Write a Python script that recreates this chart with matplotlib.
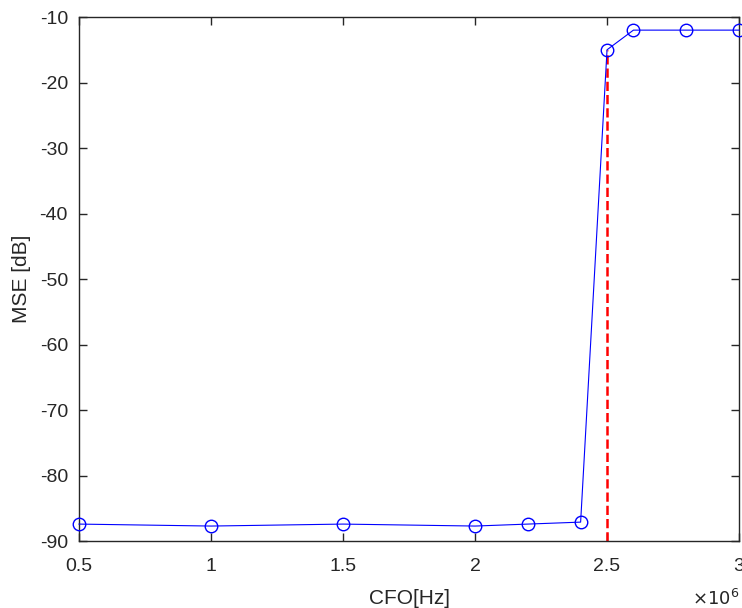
import matplotlib
matplotlib.use("Agg")
import matplotlib.pyplot as plt
from matplotlib.ticker import FuncFormatter

plt.rcParams['font.family'] = ['Liberation Sans', 'DejaVu Sans']
plt.rcParams['axes.unicode_minus'] = False

cfo_hz = [0.5e6, 1.0e6, 1.5e6, 2.0e6, 2.2e6, 2.4e6, 2.5e6, 2.6e6, 2.8e6, 3.0e6]
mse_db = [-87.4, -87.7, -87.4, -87.7, -87.4, -87.1, -15.0, -12.0, -12.0, -12.0]
threshold_hz = 2.5e6
threshold_top = -15.0
x_ticks = [0.5e6, 1.0e6, 1.5e6, 2.0e6, 2.5e6, 3.0e6]
y_ticks = [-90, -80, -70, -60, -50, -40, -30, -20, -10]

fig = plt.figure(figsize=(7.42, 6.08), dpi=100)
ax = fig.add_axes([0.1065, 0.110, 0.8895, 0.862])

ax.plot(cfo_hz, mse_db, color=(0, 0, 1), linewidth=0.8, marker='o',
        markersize=9, markerfacecolor='none', markeredgecolor=(0, 0, 1),
        markeredgewidth=1.0, clip_on=False, zorder=3)
ax.plot([threshold_hz, threshold_hz], [-90, threshold_top], color=(1, 0, 0),
        linestyle='--', linewidth=1.8, zorder=2)

ax.set_xlim(0.5e6, 3.0e6)
ax.set_ylim(-90, -10)
ax.set_xticks(x_ticks)
ax.set_yticks(y_ticks)
ax.xaxis.set_major_formatter(FuncFormatter(lambda v, p: f"{v/1e6:g}"))
ax.tick_params(direction='in', top=True, right=True, length=6, width=1,
               labelsize=14, colors=(0.15, 0.15, 0.15))
ax.tick_params(axis='x', pad=12)
ax.tick_params(axis='y', pad=8)
for s in ax.spines.values():
    s.set_color((0.15, 0.15, 0.15))
    s.set_linewidth(1.0)

ax.set_xlabel('CFO[Hz]', fontsize=15, color=(0.15, 0.15, 0.15), labelpad=10)
ax.set_ylabel('MSE [dB]', fontsize=15, color=(0.15, 0.15, 0.15), labelpad=6)
ax.text(1.0, -0.11, r'$\times10^{6}$', transform=ax.transAxes, ha='right',
        va='center', fontsize=13, color=(0.15, 0.15, 0.15))

fig.savefig('out.png', dpi=100)
